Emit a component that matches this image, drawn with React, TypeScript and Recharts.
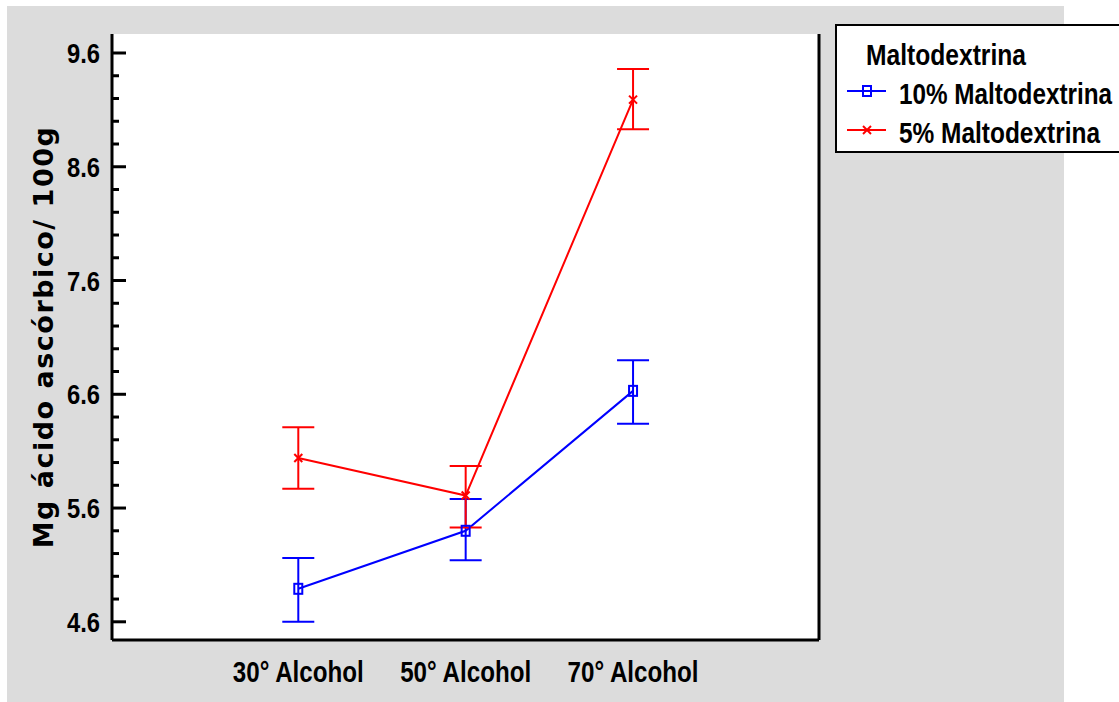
import * as React from "react";
import { CartesianGrid, ErrorBar, Line, LineChart, XAxis, YAxis } from "recharts";

const CATEGORIES = ["30° Alcohol", "50° Alcohol", "70° Alcohol"];
const X_POS = [1, 2, 3];

// 10% Maltodextrina (blue): mean, lower and upper limit
const BLUE_MEAN = [4.89, 5.4, 6.63];
const BLUE_LOW = [4.6, 5.14, 6.34];
const BLUE_HIGH = [5.16, 5.68, 6.9];

// 5% Maltodextrina (red)
const RED_MEAN = [6.04, 5.71, 9.19];
const RED_LOW = [5.77, 5.43, 8.93];
const RED_HIGH = [6.31, 5.97, 9.46];

const MAJOR_TICKS = [4.6, 5.6, 6.6, 7.6, 8.6, 9.6];
const ALL_TICKS = [
  4.6, 4.8, 5.0, 5.2, 5.4, 5.6, 5.8, 6.0, 6.2, 6.4, 6.6, 6.8, 7.0, 7.2, 7.4,
  7.6, 7.8, 8.0, 8.2, 8.4, 8.6, 8.8, 9.0, 9.2, 9.4, 9.6,
];
const Y_DOMAIN: [number, number] = [4.44, 9.767];
const X_DOMAIN: [number, number] = [-0.113, 4.111];

const BLUE = "#0000ff";
const RED = "#ff0000";
const FONT = "'Liberation Sans', Arial, sans-serif";

const data = X_POS.map((x, i) => ({
  x,
  blue: BLUE_MEAN[i],
  blueErr: [BLUE_MEAN[i] - BLUE_LOW[i], BLUE_HIGH[i] - BLUE_MEAN[i]],
  red: RED_MEAN[i],
  redErr: [RED_MEAN[i] - RED_LOW[i], RED_HIGH[i] - RED_MEAN[i]],
}));

const isMajor = (v: number) => MAJOR_TICKS.some((m) => Math.abs(m - v) < 1e-6);

// condensed bold text (the original uses a narrow font)
function NarrowText({ children, width, ...rest }: any) {
  return (
    <text
      fontFamily={FONT}
      fontWeight="bold"
      fontSize={29}
      fill="#000"
      textLength={width}
      lengthAdjust="spacingAndGlyphs"
      {...rest}
    >
      {children}
    </text>
  );
}

function InTick(props: any) {
  const { x, y, payload, side } = props;
  const v = payload.value as number;
  const len = isMajor(v) ? 14 : 7;
  const dir = side === "left" ? 1 : -1;
  return (
    <g>
      <line x1={x} y1={y} x2={x + dir * len} y2={y} stroke="#000" strokeWidth={3} />
      {side === "left" && isMajor(v) && (
        <NarrowText x={x - 12} y={y} dy="0.36em" textAnchor="end" width={33} fontSize={28}>
          {v.toFixed(1)}
        </NarrowText>
      )}
    </g>
  );
}

function CatTick({ x, y, payload }: any) {
  return (
    <NarrowText x={x} y={y} dy="0.71em" textAnchor="middle" width={131}>
      {CATEGORIES[payload.value - 1]}
    </NarrowText>
  );
}

function SquareDot({ cx, cy }: any) {
  if (cx == null || cy == null) return null;
  return <rect x={cx - 4} y={cy - 5} width={8} height={10} fill="none" stroke={BLUE} strokeWidth={2} />;
}

function CrossDot({ cx, cy }: any) {
  if (cx == null || cy == null) return null;
  return (
    <g stroke={RED} strokeWidth={2}>
      <line x1={cx - 4} y1={cy - 4} x2={cx + 4} y2={cy + 4} />
      <line x1={cx - 4} y1={cy + 4} x2={cx + 4} y2={cy - 4} />
    </g>
  );
}

function LegendBox() {
  return (
    <svg width={1119} height={702} style={{ position: "absolute", left: 0, top: 0 }}>
      <rect x={836} y={25} width={300} height={127} fill="#fff" stroke="#000" strokeWidth={2} />
      <NarrowText x={866} y={65} width={160}>Maltodextrina</NarrowText>
      <NarrowText x={899} y={104} width={213}>10% Maltodextrina</NarrowText>
      <NarrowText x={899} y={143} width={201}>5% Maltodextrina</NarrowText>
      <line x1={847} y1={91} x2={886} y2={91} stroke={BLUE} strokeWidth={2} />
      <SquareDot cx={867} cy={91} />
      <line x1={847} y1={130} x2={886} y2={130} stroke={RED} strokeWidth={2} />
      <CrossDot cx={867} cy={130} />
    </svg>
  );
}

export default function App() {
  return (
    <div style={{ position: "fixed", left: 0, top: 0, width: 1119, height: 702, background: "#fff" }}>
      <div style={{ position: "absolute", left: 7, top: 6, width: 1057, height: 696, background: "#dcdcdc" }} />
      <div style={{ position: "absolute", left: 0, top: 0 }}>
        <LineChart width={1119} height={702} data={data} margin={{ top: 34, right: 290, left: 42, bottom: 22 }}>
          <CartesianGrid fill="#ffffff" horizontal={false} vertical={false} />
          <XAxis
            dataKey="x"
            type="number"
            domain={X_DOMAIN}
            ticks={X_POS}
            tickLine={false}
            tickSize={0}
            tickMargin={21}
            height={40}
            axisLine={{ stroke: "#000", strokeWidth: 3 }}
            tick={<CatTick />}
            interval={0}
          />
          <XAxis
            xAxisId="top"
            orientation="top"
            dataKey="x"
            type="number"
            domain={X_DOMAIN}
            height={0}
            tick={false}
            tickLine={false}
            axisLine={{ stroke: "#000", strokeWidth: 3 }}
          />
          <YAxis
            type="number"
            domain={Y_DOMAIN}
            ticks={ALL_TICKS}
            interval={0}
            width={70}
            tickLine={false}
            tickSize={0}
            tickMargin={0}
            axisLine={{ stroke: "#000", strokeWidth: 3 }}
            tick={(p: any) => <InTick {...p} side="left" />}
            label={{
              value: "Mg ácido ascórbico/ 100g",
              angle: -90,
              position: "insideLeft",
              offset: 1,
              style: {
                textAnchor: "middle",
                fontFamily: "'DejaVu Sans', sans-serif",
                fontWeight: "bold",
                fontSize: 27,
                letterSpacing: 1.5,
                fill: "#000",
              },
            }}
          />
          <YAxis
            yAxisId="right"
            orientation="right"
            type="number"
            domain={Y_DOMAIN}
            ticks={ALL_TICKS}
            interval={0}
            width={10}
            tickLine={false}
            tickSize={0}
            tickMargin={0}
            axisLine={{ stroke: "#000", strokeWidth: 3 }}
            tick={(p: any) => <InTick {...p} side="right" />}
          />
          <Line
            dataKey="blue"
            type="linear"
            stroke={BLUE}
            strokeWidth={2}
            dot={<SquareDot />}
            activeDot={false}
            isAnimationActive={false}
          >
            <ErrorBar dataKey="blueErr" direction="y" width={16} stroke={BLUE} strokeWidth={2} isAnimationActive={false} />
          </Line>
          <Line
            dataKey="red"
            type="linear"
            stroke={RED}
            strokeWidth={2}
            dot={<CrossDot />}
            activeDot={false}
            isAnimationActive={false}
          >
            <ErrorBar dataKey="redErr" direction="y" width={16} stroke={RED} strokeWidth={2} isAnimationActive={false} />
          </Line>
        </LineChart>
      </div>
      <LegendBox />
    </div>
  );
}
